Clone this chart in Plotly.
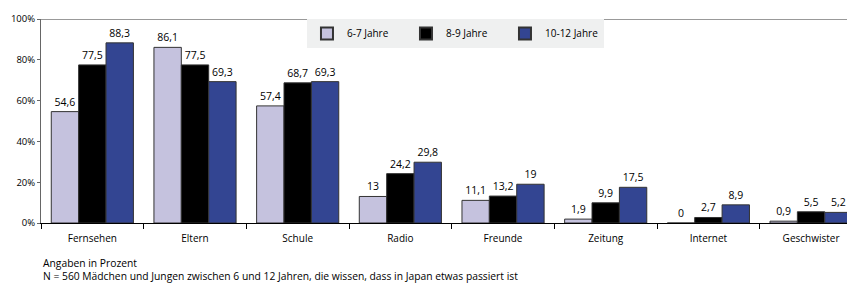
import plotly.graph_objects as go

categories = ["Fernsehen", "Eltern", "Schule", "Radio", "Freunde", "Zeitung", "Internet", "Geschwister"]
series_names = ["6-7 Jahre", "8-9 Jahre", "10-12 Jahre"]
v_6_7 = [54.6, 86.1, 57.4, 13, 11.1, 1.9, 0, 0.9]
v_8_9 = [77.5, 77.5, 68.7, 24.2, 13.2, 9.9, 2.7, 5.5]
v_10_12 = [88.3, 69.3, 69.3, 29.8, 19, 17.5, 8.9, 5.2]
y_ticks = [0, 20, 40, 60, 80, 100]
y_tick_labels = ["0%", "20%", "40%", "60%", "80%", "100%"]

colors = ["#c5c2de", "#000000", "#334592"]
font_family = "Open Sans, Noto Sans, sans-serif"

def fmt(v):
    s = ("%g" % v)
    return s.replace(".", ",")

fig = go.Figure()
for name, vals, col in zip(series_names, [v_6_7, v_8_9, v_10_12], colors):
    fig.add_trace(go.Bar(
        x=categories, y=vals, name=name,
        marker=dict(color=col, line=dict(color="#333333", width=1)),
        text=[fmt(v) for v in vals], textposition="outside",
        textfont=dict(size=10.5, color="#000000", family=font_family),
        cliponaxis=False,
    ))

fig.update_layout(
    width=847, height=285,
    margin=dict(l=41, r=0, t=19, b=62),
    paper_bgcolor="white", plot_bgcolor="white",
    barmode="group", bargap=0.2, bargroupgap=0,
    font=dict(family=font_family, size=10, color="#000000"),
    showlegend=True,
    legend=dict(
        orientation="h", x=0.33, y=1.0, xanchor="left", yanchor="top",
        bgcolor="#eff0f0", font=dict(size=10, family=font_family),
        itemwidth=30, entrywidth=54, entrywidthmode="pixels",
        traceorder="normal", itemsizing="constant",
    ),
)
fig.update_xaxes(
    range=[-0.5, 7.35], showline=True, linecolor="#000000", linewidth=1,
    ticks="outside", tickson="boundaries", ticklen=5, tickcolor="#000000",
    showgrid=False, tickfont=dict(size=10, family=font_family),
    ticklabelstandoff=6,
)
fig.update_yaxes(
    range=[0, 100], tickvals=y_ticks, ticktext=y_tick_labels,
    showline=True, linecolor="#666666", linewidth=1,
    ticks="outside", ticklen=3, tickcolor="#666666",
    showgrid=False, zeroline=False, tickfont=dict(size=9.5, family=font_family),
)
fig.add_shape(type="line", xref="paper", yref="y", x0=0, x1=1, y0=100, y1=100,
              line=dict(color="#777777", width=1.5))
fig.add_annotation(text="Angaben in Prozent", xref="paper", yref="paper",
                   x=0, y=-0.197, xanchor="left", yanchor="middle", showarrow=False,
                   font=dict(size=10.3, family=font_family))
fig.add_annotation(text="N = 560 Mädchen und Jungen zwischen 6 und 12 Jahren, die wissen, dass in Japan etwas passiert ist",
                   xref="paper", yref="paper",
                   x=0, y=-0.258, xanchor="left", yanchor="middle", showarrow=False,
                   font=dict(size=10.3, family=font_family))

fig.write_html("out.html", config={"displayModeBar": False},
               post_script="document.body.style.margin='0px';document.body.style.overflow='hidden';")
